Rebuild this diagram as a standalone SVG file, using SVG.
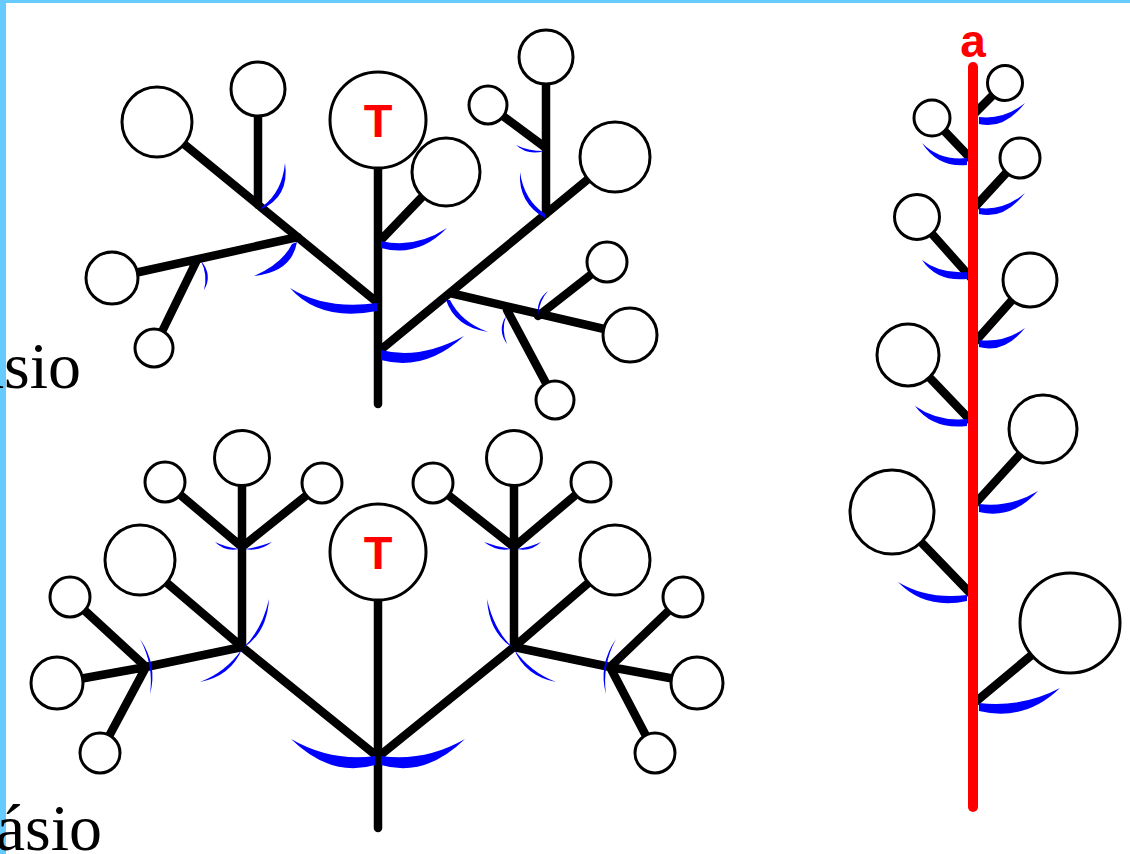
<svg xmlns="http://www.w3.org/2000/svg" width="1130" height="854" viewBox="0 0 1130 854">
<style>
.st{stroke:#000;stroke-width:8.5;stroke-linecap:round;fill:none}
.fl{fill:#fff;stroke:#000;stroke-width:3}
.br{fill:#0000ff;stroke:none}
.lbl{font-family:'Liberation Sans',Arial,sans-serif;font-weight:bold;fill:#ff0000}
.cap{font-family:'Liberation Serif','Times New Roman',serif;font-size:66px;fill:#000}
</style>
<rect x="0" y="0" width="1130" height="854" fill="#fff"/>
<rect x="0" y="0" width="1130" height="3" fill="#66ccff"/>
<rect x="0" y="0" width="6" height="854" fill="#66ccff"/>

<g id="connectors">
  <!-- top tree -->
  <path class="st" d="M378 165V404M378 303L157 122M258 205V89M298 237L112 278M197 260L154 348M378 243L446 172M378 352L615 157M546 214V57M546 148L488 105M450 293L630 335M507 310L555 400M538 316L607 262"/>
  <!-- bottom tree -->
  <path class="st" d="M378 600V828M378 757L514 647M378 757L242 647M514 647V458M514 547L433 483M514 547L591 482M514 647L615 560M514 647L610 667M610 667L683 597M610 667L697 683M610 667L655 753M242 647V458M242 547L322 483M242 547L165 482M242 647L140 560M242 647L146 667M146 667L70 597M146 667L57 683M146 667L100 753"/>
  <!-- raceme stalks -->
  <path class="st" d="M973 115L1005 83M973 161L932 118M973 209L1020 158M973 280L917 217M973 344L1030 280M973 423L908 355M973 506L1043 429M973 596L892 512M973 704L1070 623"/>
  <path d="M973 67V807" stroke="#ff0000" stroke-width="10" stroke-linecap="round" fill="none"/>
</g>

<g id="bracts">
  <!-- top tree -->
  <path class="br" d="M290 288Q320 322 377 311L377 303Q325 310 290 288Z"/>
  <path class="br" d="M381 350Q420 360 464 336Q425 372 381 360Z"/>
  <path class="br" d="M381 241Q415 249 447 228Q418 258 381 248Z"/>
  <path class="br" d="M285 163Q290 197 260 210L263 206Q282 192 285 163Z"/>
  <path class="br" d="M297 242Q292 272 254 276Q282 264 292 244Z"/>
  <path class="br" d="M201 261Q213 275 204 290Q208 275 201 261Z"/>
  <path class="br" d="M520 172Q518 203 545 218L545 214Q524 200 520 172Z"/>
  <path class="br" d="M516 145Q528 156 544 151Q528 151 516 145Z"/>
  <path class="br" d="M446 300Q455 327 488 332Q461 322 450 300Z"/>
  <path class="br" d="M506 316Q497 330 507 344Q501 330 506 316Z"/>
  <path class="br" d="M548 291Q536 300 538 316Q539 301 548 291Z"/>
  <!-- bottom tree -->
  <path class="br" d="M381 756Q425 762 465 739Q425 778 381 765Z"/>
  <path class="br" d="M375 756Q331 762 291 739Q331 778 375 765Z"/>
  <path class="br" d="M484 542Q497 552 511 549Q497 547 484 542Z"/>
  <path class="br" d="M517 549Q531 552 541 542Q531 547 517 549Z"/>
  <path class="br" d="M215 542Q225 552 239 549Q225 547 215 542Z"/>
  <path class="br" d="M245 549Q259 552 272 542Q259 547 245 549Z"/>
  <path class="br" d="M487 599Q489 633 513 648Q494 630 487 599Z"/>
  <path class="br" d="M514 649Q525 676 556 682Q530 672 514 649Z"/>
  <path class="br" d="M269 599Q267 633 243 648Q262 630 269 599Z"/>
  <path class="br" d="M242 649Q231 676 200 682Q226 672 242 649Z"/>
  <path class="br" d="M616 639Q598 665 606 694Q602 665 616 639Z"/>
  <path class="br" d="M140 639Q158 665 150 694Q154 665 140 639Z"/>
  <!-- raceme -->
  <path class="br" d="M979 117Q1004 120 1025 103Q1004 130 979 124Z"/>
  <path class="br" d="M922 143Q940 161 967 158L967 165Q938 168 922 143Z"/>
  <path class="br" d="M979 208Q1004 211 1025 193Q1004 220 979 214Z"/>
  <path class="br" d="M922 260Q940 274 967 272L967 279Q937 282 922 260Z"/>
  <path class="br" d="M979 340Q1004 343 1025 328Q1004 354 979 347Z"/>
  <path class="br" d="M915 406Q938 422 967 419L967 426Q933 430 915 406Z"/>
  <path class="br" d="M979 504Q1010 508 1038 491Q1012 520 979 512Z"/>
  <path class="br" d="M898 582Q928 600 967 595L967 601Q925 610 898 582Z"/>
  <path class="br" d="M979 703Q1022 708 1060 688Q1025 722 979 711Z"/>
</g>

<!-- top tree nodes -->
<g id="top-T"><circle class="fl" cx="378" cy="120" r="48"/><text class="lbl" x="378" y="137" font-size="47" text-anchor="middle">T</text></g>
<g id="top-n1"><circle class="fl" cx="157" cy="122" r="35"/></g>
<g id="top-n2"><circle class="fl" cx="258" cy="89" r="27"/></g>
<g id="top-n3"><circle class="fl" cx="112" cy="278" r="26"/></g>
<g id="top-n4"><circle class="fl" cx="154" cy="348" r="19"/></g>
<g id="top-n5"><circle class="fl" cx="446" cy="172" r="34"/></g>
<g id="top-n6"><circle class="fl" cx="615" cy="157" r="35"/></g>
<g id="top-n7"><circle class="fl" cx="546" cy="57" r="27"/></g>
<g id="top-n8"><circle class="fl" cx="488" cy="105" r="19"/></g>
<g id="top-n9"><circle class="fl" cx="630" cy="335" r="27"/></g>
<g id="top-n10"><circle class="fl" cx="555" cy="400" r="19"/></g>
<g id="top-n11"><circle class="fl" cx="607" cy="262" r="20"/></g>

<!-- bottom tree nodes -->
<g id="bot-T"><circle class="fl" cx="378" cy="552" r="48"/><text class="lbl" x="378" y="569" font-size="47" text-anchor="middle">T</text></g>
<g id="bot-r1"><circle class="fl" cx="514" cy="458" r="27.5"/></g>
<g id="bot-r2"><circle class="fl" cx="433" cy="483" r="20"/></g>
<g id="bot-r3"><circle class="fl" cx="591" cy="482" r="20"/></g>
<g id="bot-r4"><circle class="fl" cx="615" cy="560" r="35"/></g>
<g id="bot-r5"><circle class="fl" cx="683" cy="597" r="20"/></g>
<g id="bot-r6"><circle class="fl" cx="697" cy="683" r="26"/></g>
<g id="bot-r7"><circle class="fl" cx="655" cy="753" r="20"/></g>
<g id="bot-l1"><circle class="fl" cx="242" cy="458" r="27.5"/></g>
<g id="bot-l2"><circle class="fl" cx="322" cy="483" r="20"/></g>
<g id="bot-l3"><circle class="fl" cx="165" cy="482" r="20"/></g>
<g id="bot-l4"><circle class="fl" cx="140" cy="560" r="35"/></g>
<g id="bot-l5"><circle class="fl" cx="70" cy="597" r="20"/></g>
<g id="bot-l6"><circle class="fl" cx="57" cy="683" r="26"/></g>
<g id="bot-l7"><circle class="fl" cx="100" cy="753" r="20"/></g>

<!-- raceme nodes -->
<g id="rac-a"><text class="lbl" x="973" y="57" font-size="46" text-anchor="middle">a</text></g>
<g id="rac-1"><circle class="fl" cx="1005" cy="83" r="17.5"/></g>
<g id="rac-2"><circle class="fl" cx="932" cy="118" r="18"/></g>
<g id="rac-3"><circle class="fl" cx="1020" cy="158" r="20"/></g>
<g id="rac-4"><circle class="fl" cx="917" cy="217" r="22.5"/></g>
<g id="rac-5"><circle class="fl" cx="1030" cy="280" r="27"/></g>
<g id="rac-6"><circle class="fl" cx="908" cy="355" r="31"/></g>
<g id="rac-7"><circle class="fl" cx="1043" cy="429" r="34"/></g>
<g id="rac-8"><circle class="fl" cx="892" cy="512" r="42"/></g>
<g id="rac-9"><circle class="fl" cx="1070" cy="623" r="50"/></g>

<g id="captions">
  <text class="cap" x="81" y="388" text-anchor="end">ásio</text>
  <text class="cap" x="102" y="850" text-anchor="end">ásio</text>
</g>
</svg>
